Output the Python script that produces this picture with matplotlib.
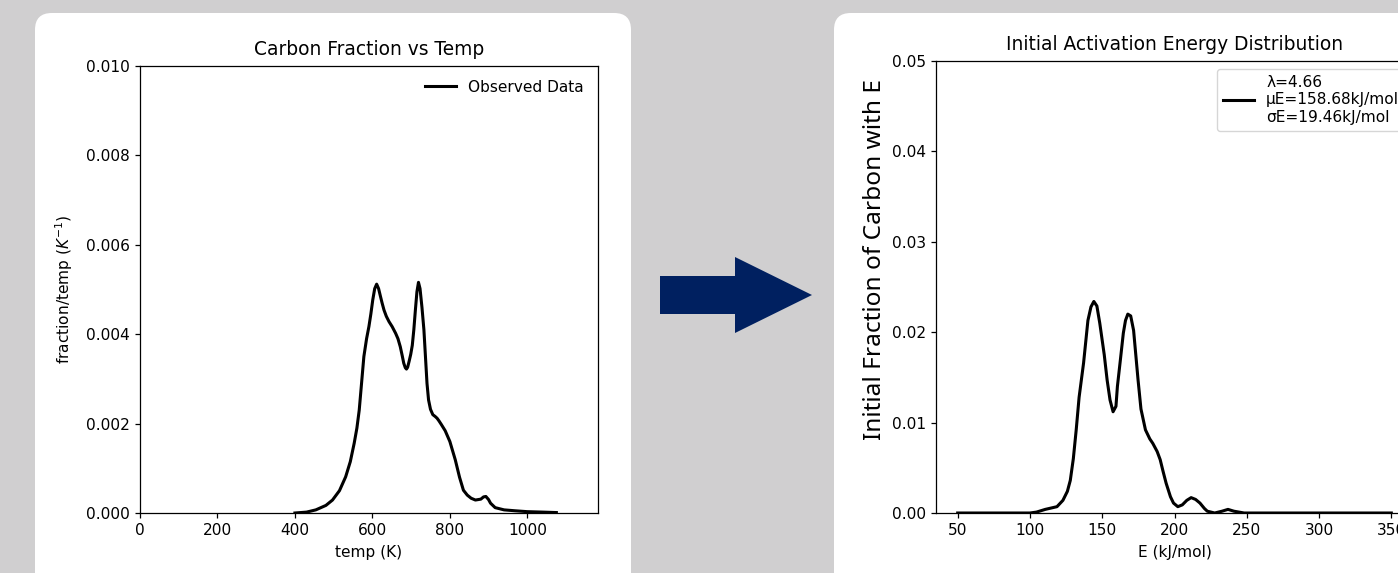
import matplotlib
matplotlib.use("Agg")
import matplotlib.pyplot as plt
from matplotlib.patches import FancyBboxPatch, Polygon
from matplotlib.ticker import FormatStrFormatter

# ---- data: left chart (observed carbon fraction per K) ----
temp_K = [400, 430, 454, 480, 497, 515, 531, 543, 553, 560, 566, 572, 578, 585,
          591, 596, 601, 606, 611, 616, 621, 625, 630, 636, 643, 651, 660, 666,
          672, 677, 681, 685, 688, 691, 695, 699, 703, 707, 711, 715, 719, 723,
          728, 733, 737, 741, 745, 750, 756, 762, 767, 772, 778, 788, 800, 814,
          825, 835, 845, 855, 866, 880, 887, 893, 900, 905, 917, 940, 968, 1000,
          1040, 1075]
frac_per_K = [0.0, 0.00002, 0.00007, 0.00017, 0.00029, 0.00050, 0.00081, 0.00115,
              0.00156, 0.0019, 0.0023, 0.0029, 0.0035, 0.0039, 0.00417, 0.00445,
              0.00477, 0.00502, 0.00512, 0.00502, 0.00484, 0.0047, 0.00454,
              0.0044, 0.00428, 0.00417, 0.00402, 0.0039, 0.00372, 0.00352,
              0.00335, 0.00325, 0.00322, 0.00326, 0.0034, 0.00355, 0.00375,
              0.0041, 0.00454, 0.00495, 0.00516, 0.00502, 0.00460, 0.0041, 0.0035,
              0.0029, 0.00253, 0.00232, 0.0022, 0.00216, 0.00212, 0.00206,
              0.00198, 0.00184, 0.0016, 0.00119, 0.0008, 0.00051, 0.0004,
              0.00033, 0.00029, 0.00031, 0.00036, 0.00037, 0.0003, 0.00022,
              0.00012, 0.00007, 0.00005, 0.00003, 0.00002, 0.00001]

# ---- data: right chart (initial activation energy distribution) ----
energy_kJ = [50, 70, 90, 100, 104.5, 110.6, 118.7, 122.8, 125.9, 127.9, 130, 132,
             134, 137.1, 140.1, 142.2, 144.2, 146.3, 148.3, 151.4, 153.4, 155.4,
             157.5, 159.5, 160.5, 162.6, 164.6, 166.1, 167.7, 169.7, 171.7, 174.8,
             176.8, 179.9, 182.9, 185, 188, 190.1, 192.1, 194.2, 197.2, 199.3,
             202.3, 205.4, 208.5, 211.5, 214.6, 217.6, 220.7, 222.7, 227.8, 232.9,
             237, 241.1, 248.2, 263.5, 300, 350]
frac_E = [0, 0, 0, 0, 0.0001, 0.0004, 0.0007, 0.0014, 0.0024, 0.0036, 0.0060,
          0.0092, 0.0128, 0.0166, 0.0213, 0.0228, 0.0234, 0.0229, 0.0210, 0.0175,
          0.0147, 0.0125, 0.0112, 0.0118, 0.0140, 0.0170, 0.0199, 0.0213, 0.0220,
          0.0218, 0.0202, 0.0147, 0.0115, 0.0092, 0.0082, 0.0077, 0.0068, 0.0059,
          0.0046, 0.0033, 0.0018, 0.0011, 0.0007, 0.0009, 0.0014, 0.0017, 0.0015,
          0.0011, 0.0005, 0.0002, 0.0, 0.0002, 0.0004, 0.0002, 0.0, 0, 0, 0]

left_ticks_x = [0, 200, 400, 600, 800, 1000]
left_ticks_y = [0.000, 0.002, 0.004, 0.006, 0.008, 0.010]
right_ticks_x = [50, 100, 150, 200, 250, 300, 350]
right_ticks_y = [0.00, 0.01, 0.02, 0.03, 0.04, 0.05]
legend_left = "Observed Data"
legend_right = "λ=4.66\nμE=158.68kJ/mol\nσE=19.46kJ/mol"

FS = 11.1
plt.rcParams.update({"font.size": FS, "xtick.labelsize": FS, "ytick.labelsize": FS,
                     "axes.linewidth": 0.9, "xtick.major.size": 3.9,
                     "ytick.major.size": 3.9, "xtick.major.width": 0.9,
                     "ytick.major.width": 0.9})

W, H = 1398, 573
fig = plt.figure(figsize=(W / 100, H / 100), dpi=100)
fig.patch.set_facecolor("#d0cfd0")

def px_box(x0, y0, x1, y1):
    return (x0 / W, 1 - y1 / H, (x1 - x0) / W, (y1 - y0) / H)

# white panels
for (x0, y0, x1, y1) in [(35, 13, 631, 600), (834, 13, 1440, 600)]:
    bx, by, bw, bh = px_box(x0, y0, x1, y1)
    fig.patches.append(FancyBboxPatch((bx, by), bw, bh,
                                      boxstyle="round,pad=0,rounding_size=0.012",
                                      transform=fig.transFigure, facecolor="white",
                                      edgecolor="none", zorder=-2,
                                      mutation_aspect=W / H))

# arrow
arrow_px = [(660, 276), (735, 276), (735, 257), (812, 295), (735, 333),
            (735, 314), (660, 314)]
fig.patches.append(Polygon([(x / W, 1 - y / H) for x, y in arrow_px], closed=True,
                           transform=fig.transFigure, facecolor="#002060",
                           edgecolor="none", zorder=-1))

# left axes
ax1 = fig.add_axes(px_box(140, 66, 598, 513))
ax1.plot(temp_K, frac_per_K, color="black", lw=2.2, label=legend_left,
         solid_joinstyle="round")
ax1.set_xlim(0, 1075 * 1.1)
ax1.set_ylim(0, 0.010)
ax1.set_xticks(left_ticks_x)
ax1.set_yticks(left_ticks_y)
ax1.yaxis.set_major_formatter(FormatStrFormatter("%.3f"))
ax1.set_title("Carbon Fraction vs Temp", fontsize=13.4, pad=8)
ax1.set_xlabel("temp (K)", labelpad=5)
ax1.set_ylabel("fraction/temp ($K^{-1}$)")
ax1.yaxis.set_label_coords(-0.143, 0.5)
ax1.legend(loc="upper right", frameon=False)

# right axes
ax2 = fig.add_axes(px_box(936, 61, 1413, 513))
ax2.plot(energy_kJ, frac_E, color="black", lw=2.2, label=legend_right,
         solid_joinstyle="round")
ax2.set_xlim(35, 365)
ax2.set_ylim(0, 0.05)
ax2.set_xticks(right_ticks_x)
ax2.set_yticks(right_ticks_y)
ax2.yaxis.set_major_formatter(FormatStrFormatter("%.2f"))
ax2.set_title("Initial Activation Energy Distribution", fontsize=13.4, pad=8)
ax2.set_xlabel("E (kJ/mol)", labelpad=5)
ax2.set_ylabel("Initial Fraction of Carbon with E", fontsize=17.6,
               family=["Noto Sans", "DejaVu Sans"])
ax2.yaxis.set_label_coords(-0.103, 0.56)
ax2.legend(loc="upper right")

fig.savefig("out.png", dpi=100, facecolor=fig.get_facecolor())
